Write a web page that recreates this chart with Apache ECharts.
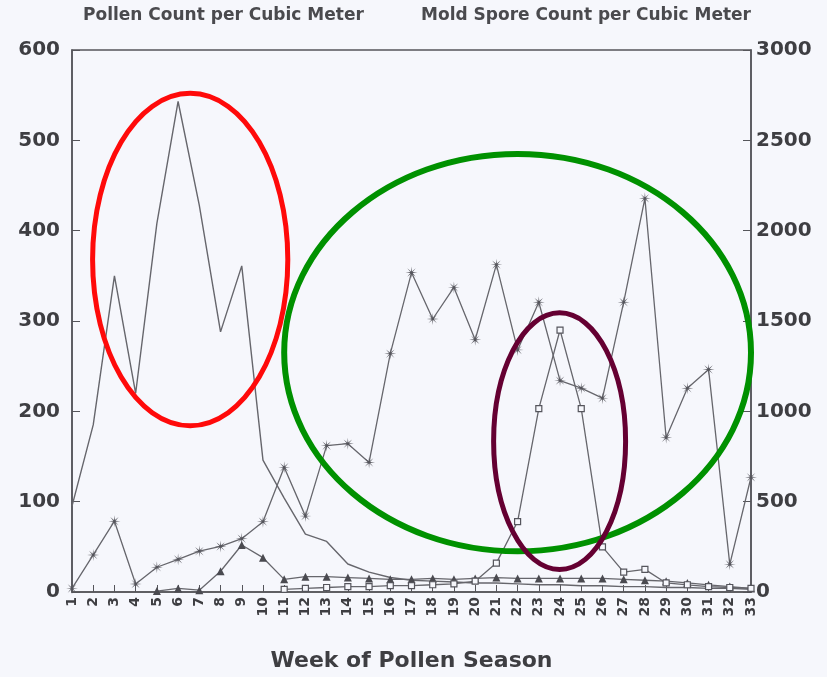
<!DOCTYPE html>
<html>
<head>
<meta charset="utf-8">
<script src="https://cdn.jsdelivr.net/npm/echarts@6/dist/echarts.min.js"></script>
<style>
html,body{margin:0;padding:0;background:#f6f7fc;}
#c{width:827px;height:677px;}
</style>
</head>
<body>
<div id="c"></div>
<script>
// ---- data ----
const weeks = ['1','2','3','4','5','6','7','8','9','10','11','12','13','14','15','16','17','18','19','20','21','22','23','24','25','26','27','28','29','30','31','32','33'];
// pollen line, no markers (left axis)
const pollenMain = [95,185,350,220,408,543,428,288,361,146,104,64,56,31,22,16,13,12,11,10,10,9,8,8,7,7,6,6,5,5,4,4,3];
// mold spores with asterisk markers (right axis)
const moldSpores = [20,205,392,44,137,181,226,252,295,389,690,420,810,821,717,1319,1768,1511,1686,1396,1812,1340,1604,1170,1128,1073,1604,2179,854,1128,1232,153,635];
// pollen with filled triangle markers (left axis)
const pollenTri = [null,null,null,null,1,4,2,23,52,38,14,17,17,16,15,14,14,15,14,15,16,15,15,15,15,15,14,13,12,10,8,6,4];
// pollen with box markers (left axis)
const pollenBox = [null,null,null,null,null,null,null,null,null,null,3,4,5,6,6,7,7,8,9,12,32,78,203,290,203,50,22,25,10,8,6,5,4];
const leftTicks = [0,100,200,300,400,500,600];
const rightTicks = [0,500,1000,1500,2000,2500,3000];
// annotation ellipses in data units: [centre week, centre left-axis value, radius in weeks, radius in value]
const ellipseRed = [6.57, 368, 4.6, 184];
const ellipseGreen = [22.0, 265, 11.0, 220];
const ellipsePurple = [23.98, 167, 3.11, 142];

const asterisk = 'path://M10,0L1.85,0.77L7.07,7.07L0.77,1.85L0,10L-0.77,1.85L-7.07,7.07L-1.85,0.77L-10,0L-1.85,-0.77L-7.07,-7.07L-0.77,-1.85L0,-10L0.77,-1.85L7.07,-7.07L1.85,-0.77Z';
const FONT = 'DejaVu Sans';
const TXT = '#3e3e42';
const LINE = '#66666c';

const chart = echarts.init(document.getElementById('c'), null, {renderer:'canvas'});
chart.setOption({
  backgroundColor: '#f6f7fc',
  animation: false,
  grid: {left:72, right:76, top:50, bottom:79, show:true, borderColor:'#55555a', borderWidth:1.5, backgroundColor:'transparent'},
  xAxis: {
    type:'category', data: weeks, boundaryGap:false,
    axisLine:{lineStyle:{color:'#55555a', width:1.5}},
    axisTick:{inside:true, length:7, interval:0, lineStyle:{color:'#55555a'}},
    axisLabel:{interval:0, rotate:90, fontFamily:FONT, fontWeight:'bold', fontSize:14, color:TXT, margin:5},
    name:'Week of Pollen Season', nameLocation:'middle', nameGap:58,
    nameTextStyle:{fontFamily:FONT, fontWeight:'bold', fontSize:22, color:TXT},
    splitLine:{show:false}
  },
  yAxis: [
    {
      type:'value', min:leftTicks[0], max:leftTicks[leftTicks.length-1], interval:leftTicks[1]-leftTicks[0],
      position:'left',
      axisLine:{show:true, lineStyle:{color:'#55555a', width:1.5}},
      axisTick:{show:true, inside:true, length:8, lineStyle:{color:'#55555a'}},
      axisLabel:{fontFamily:FONT, fontWeight:'bold', fontSize:20, color:TXT, margin:12, formatter:v=>String(v)},
      splitLine:{show:false},
      name:'Pollen Count per Cubic Meter', nameLocation:'end', nameGap:26,
      nameTextStyle:{fontFamily:FONT, fontWeight:'bold', fontSize:17, color:'#4a4a4e', align:'left', padding:[0,0,0,11]}
    },
    {
      type:'value', min:rightTicks[0], max:rightTicks[rightTicks.length-1], interval:rightTicks[1]-rightTicks[0],
      position:'right',
      axisLine:{show:true, lineStyle:{color:'#55555a', width:1.5}},
      axisTick:{show:true, inside:true, length:8, lineStyle:{color:'#55555a'}},
      axisLabel:{fontFamily:FONT, fontWeight:'bold', fontSize:20, color:TXT, margin:5, formatter:v=>String(v)},
      splitLine:{show:false},
      name:'Mold Spore Count per Cubic Meter', nameLocation:'end', nameGap:26,
      nameTextStyle:{fontFamily:FONT, fontWeight:'bold', fontSize:17, color:'#4a4a4e', align:'right', padding:[0,0,0,0]}
    }
  ],
  series: [
    {name:'Pollen', type:'line', yAxisIndex:0, data:pollenMain, showSymbol:false, symbol:'none',
     lineStyle:{color:LINE, width:1.4}, z:3},
    {name:'Mold spores', type:'line', yAxisIndex:1, data:moldSpores, symbol:asterisk, symbolSize:12,
     itemStyle:{color:'#55555c'}, lineStyle:{color:LINE, width:1.3}, z:4},
    {name:'Pollen B', type:'line', yAxisIndex:0, data:pollenTri, symbol:'triangle', symbolSize:8,
     itemStyle:{color:'#4a4a50'}, lineStyle:{color:LINE, width:1.3}, z:5},
    {name:'Pollen C', type:'line', yAxisIndex:0, data:pollenBox, symbol:'rect', symbolSize:6,
     itemStyle:{color:'#f6f7fc', borderColor:'#55555c', borderWidth:1.2}, lineStyle:{color:LINE, width:1.3}, z:5}
  ]
});

function ellipseGraphic(e, color, width) {
  const p0 = chart.convertToPixel({xAxisIndex:0, yAxisIndex:0}, [0, 0]);
  const p1 = chart.convertToPixel({xAxisIndex:0, yAxisIndex:0}, [weeks.length-1, leftTicks[leftTicks.length-1]]);
  const pxPerWeek = (p1[0]-p0[0])/(weeks.length-1);
  const pxPerVal = (p0[1]-p1[1])/leftTicks[leftTicks.length-1];
  return {
    type:'ellipse', silent:true, z:100,
    shape:{cx: p0[0] + (e[0]-1)*pxPerWeek, cy: p0[1] - e[1]*pxPerVal, rx: e[2]*pxPerWeek, ry: e[3]*pxPerVal},
    style:{fill:'none', stroke:color, lineWidth:width}
  };
}
chart.setOption({graphic:[
  ellipseGraphic(ellipseRed, '#ff0a0a', 5),
  ellipseGraphic(ellipseGreen, '#009100', 6),
  ellipseGraphic(ellipsePurple, '#650032', 5)
]});
</script>
</body>
</html>
